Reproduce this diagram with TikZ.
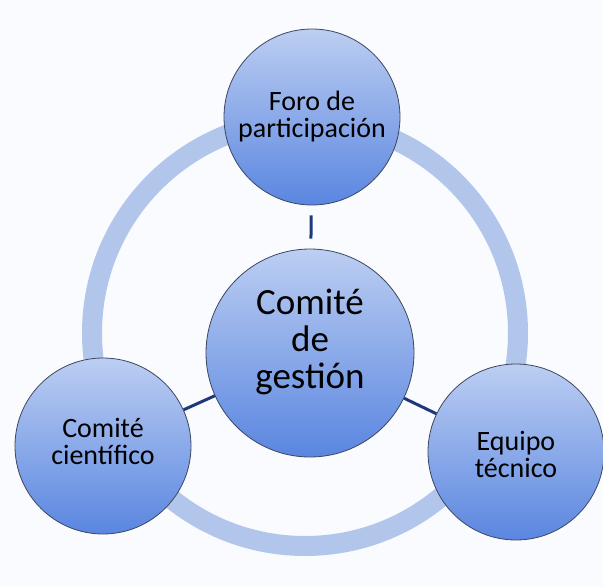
\documentclass[tikz,border=0pt]{standalone}
\usepackage{fontspec}
\setmainfont{Carlito}
\usetikzlibrary{positioning, backgrounds}
\definecolor{ringblue}{RGB}{178,198,236}
\definecolor{topblue}{RGB}{188,206,242}
\definecolor{botblue}{RGB}{90,134,224}
\definecolor{edgegray}{RGB}{62,70,96}
\definecolor{linknavy}{RGB}{30,56,122}
\definecolor{paper}{RGB}{249,251,254}
\tikzset{%
	unit/.style={draw=edgegray, line width=0.8pt, circle, minimum size=176pt,%
		inner sep=0pt, top color=topblue, bottom color=botblue},
	hub/.style={unit, minimum size=208pt},
	lbl/.style={align=center, inner sep=0pt, font=\fontsize{28}{27}\selectfont},
	biglbl/.style={lbl, font=\fontsize{37}{37}\selectfont},
	link/.style={draw=linknavy, line width=3pt},
	ring/.style={draw=ringblue, line width=20pt}
}

\begin{document}
\begin{tikzpicture}[x=1pt, y=-1pt]
	\fill[paper] (0,0) rectangle (603,587);
	\useasboundingbox (0,0) rectangle (603,587);

	% cycle behind the circles
	\draw[ring] (305,333) circle (213pt);

	\node[hub]  (hub)    at (310,353) {};
	\node[unit] (foro)   at (312,117) {};
	\node[unit] (cient)  at (103,446) {};
	\node[unit] (equipo) at (516,452) {};

	\node[biglbl] (hubT)    at ([yshift=11pt]hub.center)  {Comité\\de\\gestión};
	\node[lbl]    (foroT)   at (foro.center)              {Foro de\\participación};
	\node[lbl]    (cientT)  at ([yshift=5pt]cient.center) {Comité\\científico};
	\node[lbl]    (equipoT) at ([yshift=-2pt]equipo.center) {Equipo\\técnico};

	\draw[link, shorten >=10pt, shorten <=10pt] (hub) -- (foro);
	\draw[link] (hub) -- (cient);
	\draw[link] (hub) -- (equipo);

\end{tikzpicture}
\end{document}
